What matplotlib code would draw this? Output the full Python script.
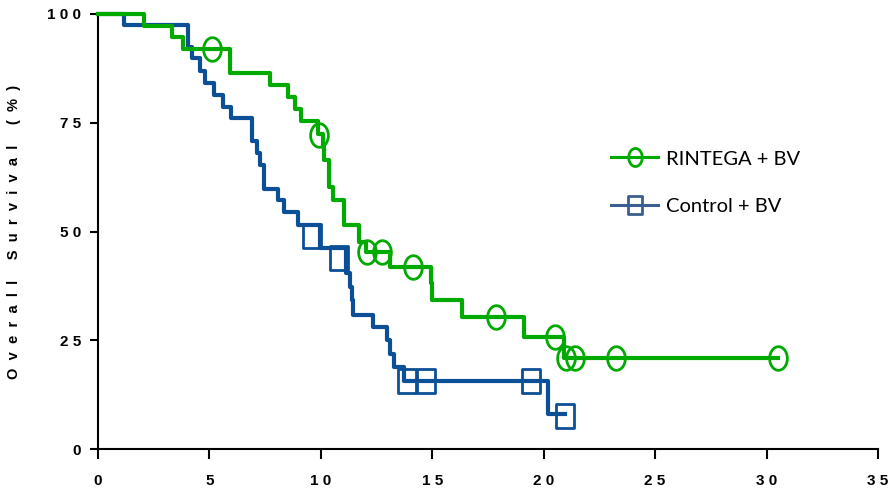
import numpy as np
import matplotlib.pyplot as plt
from matplotlib.path import Path
from matplotlib.lines import Line2D

# Courbes de Kaplan-Meier (temps en mois, survie en %)
t_rintega = [0, 2.07, 3.33, 3.83, 5.92, 7.72, 8.54, 8.84, 9.09, 9.89, 10.08, 10.14,
             10.38, 10.56, 11.04, 11.72, 12.02, 13.1, 14.95, 15.0, 16.33, 19.11, 20.92, 30.5]
s_rintega = [100, 97.3, 94.6, 92.0, 86.4, 83.7, 80.9, 78.2, 75.4, 72.4, 69.4, 66.4,
             60.3, 57.2, 51.5, 47.7, 45.4, 41.9, 38.1, 34.2, 30.4, 25.8, 20.9, 20.9]
# patients censurés
tc_rintega = [5.12, 9.93, 12.08, 12.75, 14.12, 17.84, 20.53, 20.98, 21.42, 23.24, 30.5]
sc_rintega = [92.0, 72.2, 45.4, 45.4, 41.9, 30.4, 25.8, 20.9, 20.9, 20.9, 20.9]

t_control = [0, 1.18, 4.03, 4.2, 4.6, 4.8, 5.2, 5.6, 5.97, 6.89, 7.15, 7.27, 7.43,
             8.09, 8.35, 8.99, 9.95, 11.15, 11.3, 11.38, 11.45, 12.35, 12.95, 13.12,
             13.3, 13.72, 20.2, 20.95]
s_control = [100, 97.5, 92.5, 89.8, 87.0, 84.1, 81.4, 78.7, 76.0, 70.8, 68.1, 65.3, 59.7,
             57.2, 54.5, 51.5, 46.3, 40.4, 37.3, 34.3, 30.8, 28.1, 25.1, 21.8,
             18.9, 15.6, 8.0, 8.0]
tc_control = [9.6, 10.8, 13.85, 14.72, 19.42, 20.95]
sc_control = [49.0, 44.0, 15.6, 15.6, 15.6, 7.6]

x_ticks = [0, 5, 10, 15, 20, 25, 30, 35]
y_ticks = [0, 25, 50, 75, 100]

vert = '#00AA00'
bleu = '#0B4F96'

# marqueurs un peu plus hauts que larges
th = np.linspace(0, 2 * np.pi, 60)
ellipse = Path(np.column_stack([0.75 * np.cos(th), np.sin(th)]))
rect = Path([(-0.78, -1), (0.78, -1), (0.78, 1), (-0.78, 1), (-0.78, -1)],
            [Path.MOVETO, Path.LINETO, Path.LINETO, Path.LINETO, Path.CLOSEPOLY])

plt.rcParams['font.family'] = ['Liberation Sans Narrow', 'Liberation Sans', 'DejaVu Sans']

fig = plt.figure(figsize=(8.89, 4.91), dpi=100)
ax = fig.add_axes([0.1102, 0.0855, 0.8774, 0.886])

ax.step(t_control, s_control, where='post', color=bleu, lw=3, clip_on=False, zorder=3)
ax.plot(tc_control, sc_control, ls='none', marker=rect, ms=17, mfc='none',
        mec=bleu, mew=2, clip_on=False, zorder=3)
ax.step(t_rintega, s_rintega, where='post', color=vert, lw=3, clip_on=False, zorder=4)
ax.plot(tc_rintega, sc_rintega, ls='none', marker=ellipse, ms=17, mfc='none',
        mec=vert, mew=2, clip_on=False, zorder=4)

ax.set_xlim(0, 35)
ax.set_ylim(0, 100)
ax.set_xticks(x_ticks)
ax.set_xticklabels([' '.join(str(v)) for v in x_ticks])
ax.set_yticks(y_ticks)
ax.set_yticklabels([' '.join(str(v)) for v in y_ticks])
for lab in ax.get_xticklabels() + ax.get_yticklabels():
    lab.set_fontweight('bold')
    lab.set_fontsize(11)
ax.tick_params(axis='x', length=7, width=1.5, pad=11)
ax.tick_params(axis='y', length=6, width=1.5, pad=6)

ax.spines['top'].set_visible(False)
ax.spines['right'].set_visible(False)
ax.spines['left'].set_linewidth(1.5)
ax.spines['bottom'].set_linewidth(1.5)

ax.set_ylabel('  '.join('Overall Survival (%)'), fontsize=10.5, fontweight='bold',
              labelpad=19, family=['Liberation Sans', 'DejaVu Sans'])

handles = [
    Line2D([], [], color=vert, lw=2.2, marker=ellipse, ms=13, mfc='none', mew=2),
    Line2D([], [], color='#3B5E8E', lw=2.2, marker=rect, ms=13, mfc='none', mew=2),
]
ax.legend(handles, ['RINTEGA + BV', 'Control + BV'], loc='upper left',
          bbox_to_anchor=(0.635, 0.728), frameon=False, handlelength=2.3,
          handletextpad=0.4, labelspacing=1.5,
          prop={'family': ['Lato', 'DejaVu Sans'], 'size': 14.5})

fig.savefig('out.png', dpi=100)
